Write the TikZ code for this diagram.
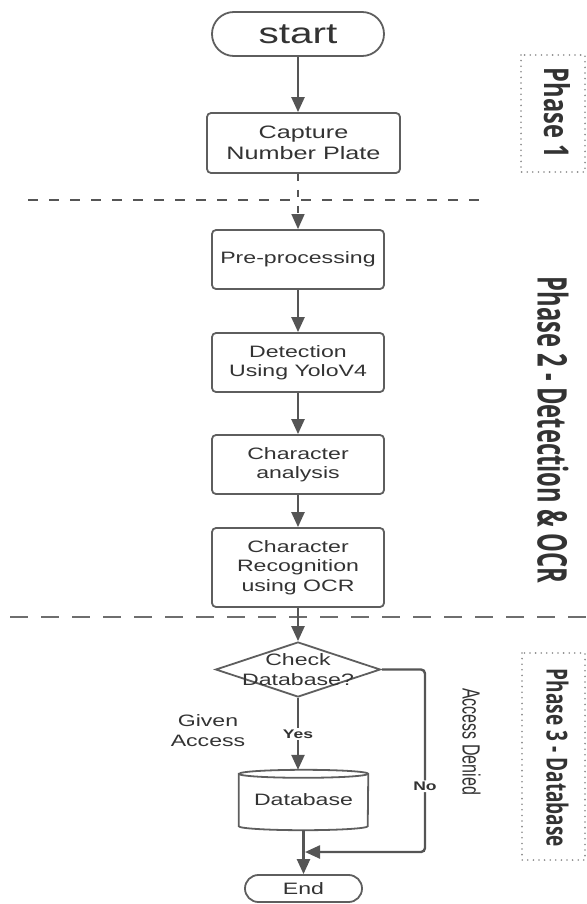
\documentclass[tikz,border=0pt]{standalone}
\usepackage{graphicx}
\usepackage{fontspec}
\setmainfont{Liberation Sans}
\newfontfamily\phasefont{Open Sans}
\usetikzlibrary{arrows.meta,shapes.geometric,calc}
\definecolor{linec}{HTML}{555555}
\definecolor{boxc}{HTML}{5E5E5E}
\definecolor{txtc}{HTML}{333333}
\definecolor{dotc}{HTML}{8A8A8A}
\begin{document}
\begin{tikzpicture}[x=1pt,y=1pt,
  wide/.style={xscale=1.4},
  txt/.style={text=txtc, font=\fontsize{16.5}{19.5}\selectfont, align=center},
  box/.style={wide, txt, draw=boxc, line width=1.8pt, rounded corners=4pt, inner sep=0pt, minimum width=122.86pt},
  term/.style={wide, txt, draw=boxc, line width=1.8pt, inner sep=0pt},
  conn/.style={draw=linec, line width=2.4pt, -{Triangle[width=13pt,length=15pt]}},
  dconn/.style={draw=linec, line width=1.4pt, dash pattern=on 7pt off 9pt, -{Triangle[width=13pt,length=15pt]}},
  lbl/.style={wide, fill=white, text=txtc, inner sep=1.5pt, font=\bfseries\fontsize{12.5}{14}\selectfont},
  phbox/.style={draw=dotc, line width=1.8pt, dash pattern=on 0pt off 5.6pt, line cap=round},
  sep1/.style={draw=linec, line width=2pt, dash pattern=on 10pt off 11pt},
  sep2/.style={draw=linec!85, line width=1.5pt, dash pattern=on 18pt off 13pt}
]
\useasboundingbox (0,0) rectangle (586,-904);

% separators
\coordinate (s1a) at (28,-200);
\coordinate (s1b) at (485,-200);
\coordinate (s2a) at (10,-617);
\coordinate (s2b) at (586,-617);
\draw[sep1] (s1a) -- (s1b);
\draw[sep2] (s2a) -- (s2b);

% nodes
\node[term, rounded corners=21.9pt, minimum width=122.86pt, minimum height=44pt,
      font=\fontsize{29}{34}\selectfont] (start) at (298,-34) {start};
\node[box, minimum width=137.86pt, minimum height=60pt, font=\fontsize{18}{21}\selectfont]
      (cap) at (303.5,-143) {Capture\\Number Plate};
\node[box, minimum height=59pt] (pre) at (298,-259.5) {Pre-processing};
\node[box, minimum height=59pt] (det) at (298,-362.5) {Detection\\Using YoloV4};
\node[box, minimum height=59pt] (cha) at (298,-464.5) {Character\\analysis};
\node[box, minimum height=79pt] (ocr) at (298,-567.5) {Character\\Recognition\\using OCR};

\node[wide, diamond, draw=boxc, line width=1.8pt, inner sep=0pt,
      minimum width=117.86pt, minimum height=55pt] (dec) at (298,-669.5) {};
\node[wide, txt, inner sep=0pt] (dect) at (dec.center) {Check\\Database?};

\node[wide, txt, inner sep=0pt, minimum width=92.14pt, minimum height=52pt] (db) at (303.5,-800) {Database};
\draw[boxc, line width=1.8pt] (db.north west) -- (db.south west)
   arc[start angle=180, end angle=360, x radius=64.5pt, y radius=4pt]
   -- (db.north east)
   arc[start angle=0, end angle=180, x radius=64.5pt, y radius=4pt] -- cycle;
\draw[boxc, line width=1.8pt] (db.north west)
   arc[start angle=180, end angle=360, x radius=64.5pt, y radius=4pt];
\coordinate (dbtop) at ($(db.north)+(0,4)$);
\coordinate (dbbot) at ($(db.south)+(0,-4)$);

\node[term, rounded corners=13.4pt, minimum width=83.57pt, minimum height=27pt] (end) at (303.5,-888.5) {End};

\node[wide, txt, inner sep=0pt] (given) at (208,-730.5) {Given\\Access};
\node[rotate=-90, text=txtc, inner sep=0pt] (denied) at (471.5,-741.5)
   {\resizebox{107pt}{18pt}{Access Denied}};

% phase labels
\node[rotate=-90, text=txtc, inner sep=0pt] (ph1) at (557,-113)
   {\resizebox{90pt}{26pt}{\phasefont\bfseries Phase 1}};
\node[rotate=-90, text=txtc, inner sep=0pt] (ph2) at (553,-430)
   {\resizebox{306pt}{31pt}{\phasefont\bfseries Phase 2 - Detection \& OCR}};
\node[rotate=-90, text=txtc, inner sep=0pt] (ph3) at (557.5,-758)
   {\resizebox{178pt}{22pt}{\phasefont\bfseries Phase 3 - Database}};
\coordinate (p1a) at (521,-55);
\coordinate (p1b) at (585,-172);
\coordinate (p3a) at (522,-653);
\coordinate (p3b) at (585,-860);
\draw[phbox] (p1a) rectangle (p1b);
\draw[phbox] (p3a) rectangle (p3b);

% connectors
\draw[conn] (start.south) -- (start.south |- cap.north);
\draw[dconn] (pre.north |- cap.south) -- (pre.north);
\draw[conn] (pre.south) -- (det.north);
\draw[conn] (det.south) -- (cha.north);
\draw[conn] (cha.south) -- (ocr.north);
\draw[conn] (ocr.south) -- (dec.north);
\draw[conn] (dec.south) -- node[lbl] {Yes} (dec.south |- dbtop);
\draw[conn] (dbbot) -- (end.north);
\coordinate (noc) at (425,-669.5);
\coordinate (nod) at (425,-852);
\coordinate (noend) at (305,-852);
\draw[conn, rounded corners=4pt] (dec.east) -- (noc) -- node[lbl, pos=0.64] {No} (nod) -- (noend);
\end{tikzpicture}
\end{document}
